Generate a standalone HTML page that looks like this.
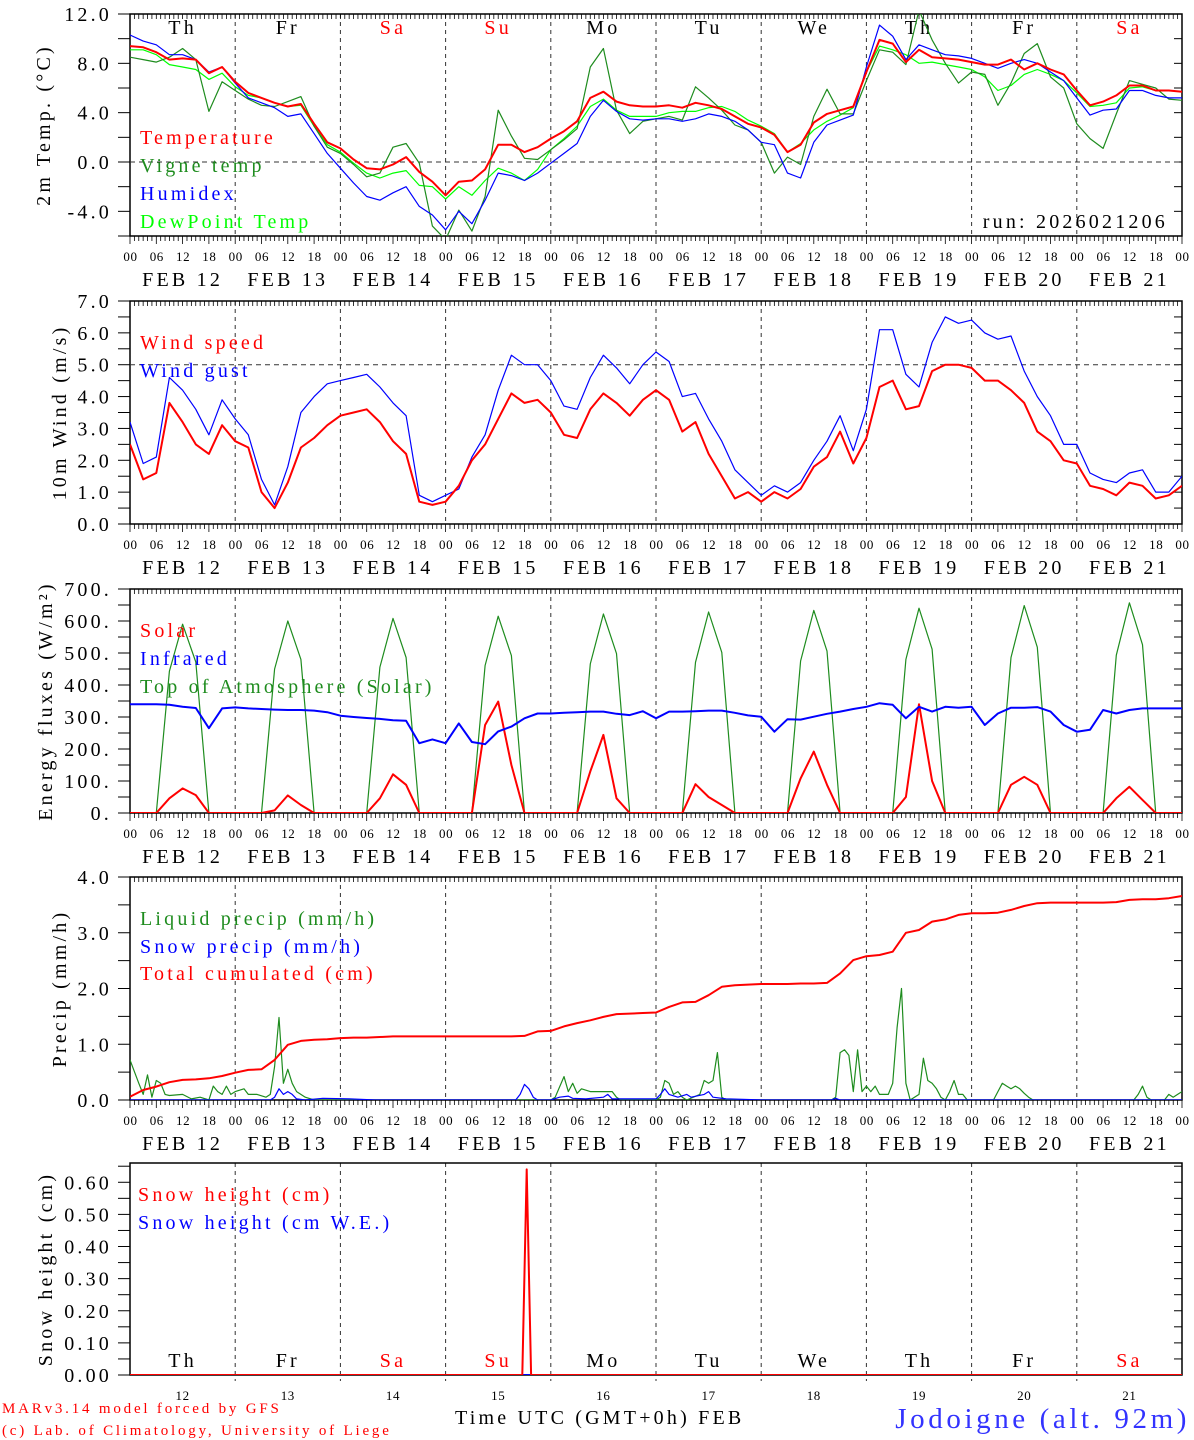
<!DOCTYPE html>
<html><head><meta charset="utf-8"><title>MAR meteogram Jodoigne</title>
<style>
html,body{margin:0;padding:0;background:#fff;}
svg{display:block;font-family:"Liberation Serif","DejaVu Serif",serif;}
.t20{font-size:20px;letter-spacing:3.2px;}
.t14{font-size:13px;letter-spacing:0.6px;}
</style></head>
<body>
<svg id="chart" width="1194" height="1440" viewBox="0 0 1194 1440" xmlns="http://www.w3.org/2000/svg"></svg>
<script>
// ---------- DATA ----------
const dayNames = ["Th","Fr","Sa","Su","Mo","Tu","We","Th","Fr","Sa"];
const dayNums = ["12","13","14","15","16","17","18","19","20","21"];
const hourTicks = ["00","06","12","18"];
const tempTicks = [12.0, 8.0, 4.0, 0.0, -4.0];
const windTicks = [7,6,5,4,3,2,1,0];
const energyTicks = [700,600,500,400,300,200,100,0];
const precipTicks = [4,3,2,1,0];
const snowTicks = [0.6,0.5,0.4,0.3,0.2,0.1,0.0];

const temperature = [9.4,9.3,8.9,8.3,8.4,8.3,7.2,7.7,6.5,5.6,5.2,4.8,4.5,4.7,3.1,1.6,1.1,0.2,-0.5,-0.6,-0.2,0.4,-0.8,-1.6,-2.7,-1.6,-1.5,-0.6,1.4,1.4,0.8,1.2,1.9,2.5,3.3,5.2,5.7,4.9,4.6,4.5,4.5,
4.6,4.4,4.8,4.6,4.3,3.7,3.1,2.8,2.2,0.8,1.4,3.2,3.9,4.2,4.5,7.3,9.9,9.6,8.1,9.1,8.5,8.4,8.3,8.1,7.9,7.9,8.3,7.5,8.0,7.5,7.1,5.8,4.6,4.9,5.4,6.2,6.2,5.8,5.8,5.7];
const humidex = [10.3,9.8,9.5,8.7,8.7,8.3,7.3,7.7,6.4,5.2,4.8,4.4,3.7,3.9,2.3,0.7,-0.5,-1.7,-2.8,-3.1,-2.5,-2.0,-3.6,-4.3,-5.5,-4.0,-5.0,-3.1,-0.9,-1.1,-1.5,-0.9,-0.1,0.7,1.5,3.7,5.0,4.1,3.5,3.4,3.5,
3.5,3.3,3.5,3.9,3.7,3.3,2.6,1.6,1.4,-0.9,-1.3,1.6,3.0,3.4,3.8,7.7,11.1,10.2,8.3,9.5,9.1,8.7,8.6,8.4,8.0,7.6,8.0,8.3,8.0,7.3,6.6,5.2,3.8,4.2,4.3,5.8,5.8,5.4,5.2,5.2];
const dewPoint = [9.1,9.1,8.7,7.9,7.7,7.5,6.7,7.2,6.1,5.4,5.2,4.8,4.5,4.6,2.9,1.4,0.8,-0.1,-0.9,-1.3,-0.9,-0.7,-1.9,-2.0,-3.0,-2.0,-2.7,-1.5,-0.5,-0.9,-1.5,-0.6,1.0,1.9,2.9,4.5,5.1,4.2,3.7,3.7,3.7,
4.0,4.1,4.1,4.4,4.5,4.1,3.4,2.9,2.3,0.8,1.5,2.6,3.3,3.8,4.4,7.3,9.4,9.1,8.7,8.0,8.1,7.9,7.7,7.5,6.9,5.8,6.2,7.1,7.5,7.1,6.6,5.6,4.5,4.6,4.8,6.0,6.1,5.8,5.8,5.7];
const vigneTemp = [8.5,8.3,8.1,8.5,9.2,8.3,4.1,6.5,5.8,5.1,4.6,4.5,4.9,5.3,2.9,1.2,0.7,-0.2,-1.2,-0.9,1.2,1.5,-0.1,-5.2,-6.3,-3.9,-5.6,-2.8,4.2,2.1,0.3,0.2,1.0,1.8,2.7,7.7,9.2,4.2,2.3,3.3,3.5,
3.7,3.4,6.1,5.2,4.2,3.0,2.6,1.6,-0.9,0.4,-0.2,3.7,5.9,3.9,3.9,6.6,9.1,8.9,7.9,12.3,9.9,8.0,6.4,7.3,7.1,4.6,6.4,8.8,9.6,6.9,6.0,3.1,1.9,1.1,3.9,6.6,6.3,6.0,5.1,5.0];

const windSpeed = [2.5,1.4,1.6,3.8,3.2,2.5,2.2,3.1,2.6,2.4,1.0,0.5,1.3,2.4,2.7,3.1,3.4,3.5,3.6,3.2,2.6,2.2,0.7,0.6,0.7,1.2,2.0,2.5,3.3,4.1,3.8,3.9,3.5,2.8,2.7,3.6,4.1,3.8,3.4,3.9,4.2,
3.9,2.9,3.2,2.2,1.5,0.8,1.0,0.7,1.0,0.8,1.1,1.8,2.1,2.9,1.9,2.7,4.3,4.5,3.6,3.7,4.8,5.0,5.0,4.9,4.5,4.5,4.2,3.8,2.9,2.6,2.0,1.9,1.2,1.1,0.9,1.3,1.2,0.8,0.9,1.2];
const windGust = [3.2,1.9,2.1,4.6,4.2,3.6,2.8,3.9,3.3,2.8,1.4,0.6,1.8,3.5,4.0,4.4,4.5,4.6,4.7,4.3,3.8,3.4,0.9,0.7,0.9,1.1,2.1,2.8,4.2,5.3,5.0,5.0,4.5,3.7,3.6,4.6,5.3,4.9,4.4,5.0,5.4,
5.1,4.0,4.1,3.3,2.6,1.7,1.3,0.9,1.2,1.0,1.3,2.0,2.6,3.4,2.3,3.6,6.1,6.1,4.7,4.3,5.7,6.5,6.3,6.4,6.0,5.8,5.9,4.8,4.0,3.4,2.5,2.5,1.6,1.4,1.3,1.6,1.7,1.0,1.0,1.5];

const solar = [0,0,0,46,77,56,0,0, 0,0,0,8,55,25,0,0, 0,0,0,46,121,88,0,0, 0,0,0,275,348,150,0,0, 0,0,0,130,244,46,0,0,
0,0,0,90,50,25,0,0, 0,0,0,108,192,88,0,0, 0,0,0,50,340,100,0,0, 0,0,0,88,113,88,0,0, 0,0,0,46,82,41,0,0, 0];
const infrared = [340,340,340,338,332,328,265,327,330,327,325,323,322,322,320,315,304,300,297,294,290,288,218,230,218,280,222,215,255,270,296,311,311,313,315,317,317,310,306,318,296,
317,317,318,320,320,313,305,301,254,293,292,301,310,317,325,332,343,338,296,332,317,332,329,332,275,311,329,329,331,317,275,254,260,322,311,322,327,327,327,327];
const topOfAtmosphere = [0,0,0,443,590,472,0,0, 0,0,0,450,600,480,0,0, 0,0,0,456,608,486,0,0, 0,0,0,461,615,492,0,0, 0,0,0,466,622,498,0,0,
0,0,0,471,628,502,0,0, 0,0,0,475,633,506,0,0, 0,0,0,480,640,512,0,0, 0,0,0,486,648,518,0,0, 0,0,0,493,657,526,0,0, 0];

const totalCumulated = [0.06,0.18,0.24,0.32,0.36,0.37,0.39,0.43,0.49,0.54,0.55,0.72,0.99,1.06,1.08,1.09,1.11,1.12,1.12,1.13,1.14,1.14,1.14,1.14,1.14,1.14,1.14,1.14,1.14,1.14,1.15,1.23,1.24,1.32,1.38,1.43,1.49,1.54,1.55,1.56,1.57,
1.67,1.75,1.76,1.88,2.03,2.06,2.07,2.08,2.08,2.08,2.09,2.09,2.10,2.27,2.51,2.58,2.60,2.66,3.00,3.05,3.20,3.24,3.32,3.35,3.35,3.36,3.41,3.48,3.53,3.54,3.54,3.54,3.54,3.54,3.55,3.59,3.60,3.60,3.62,3.66];
const liquidHours = [0,2,3,4,5,6,7,8,9,12,14,16,18,19,20,21,22,23,24,26,27,29,31,32,33,34,35,36,37,38,40,42,96,97,99,100,101,102,103,105,107,109,110,111,112,120,121,122,123,124,125,126,127,130,131,132,133,134,135,136,160,161,162,163,164,165,166,167,168,169,170,171,173,174,175,176,177,178,180,181,182,183,184,185,186,187,188,189,190,191,197,198,199,200,201,202,203,204,205,206,229,230,231,232,233,236,237,238,239,240];
const liquidPrecip = [0.72,0.3,0.1,0.45,0.05,0.35,0.3,0.1,0.08,0.1,0.02,0.05,0,0.25,0.15,0.1,0.25,0.1,0.15,0.2,0.1,0.1,0.05,0.1,0.6,1.48,0.3,0.55,0.3,0.15,0.05,0,0,0.05,0.42,0.15,0.3,0.12,0.2,0.15,0.15,0.15,0.15,0.05,0,0,0.05,0.35,0.3,0.1,0.15,0.05,0,0.1,0.35,0.3,0.35,0.85,0.05,0,0,0.05,0.85,0.9,0.8,0.15,0.9,0.15,0.25,0.15,0.25,0.1,0.1,0.3,1.3,2.0,0.3,0,0.1,0.75,0.35,0.3,0.2,0.05,0,0.15,0.35,0.1,0.1,0,0,0.15,0.3,0.25,0.2,0.25,0.2,0.12,0.05,0,0,0.1,0.25,0.05,0,0,0.1,0.05,0.1,0.15];
const snowHours = [0,32,33,34,35,36,37,38,40,44,50,56,88,89,90,91,92,93,96,98,100,101,104,108,109,110,120,121,122,123,125,127,128,131,132,133,136,145,160,161,162,240];
const snowPrecip = [0,0,0.05,0.2,0.1,0.15,0.1,0.02,0,0.03,0.02,0,0,0.1,0.28,0.2,0.05,0,0,0.05,0.07,0.03,0.02,0.05,0.1,0.02,0.02,0.1,0.2,0.1,0.05,0.1,0.05,0.1,0.15,0.05,0.02,0,0,0.03,0,0];

const snowHeightHours = [0,89.5,90.5,91.5,240];
const snowHeight = [0,0,0.64,0,0];
const snowWE = [0,0,0,0,0];

// ---------- LAYOUT ----------
const svg = document.getElementById('chart');
const NS = "http://www.w3.org/2000/svg";
const X0 = 130, X1 = 1182;
const panels = [
  {top:14,  bot:236,  min:-6, max:12},
  {top:301, bot:524,  min:0,  max:7},
  {top:589, bot:813,  min:0,  max:700},
  {top:877, bot:1100, min:0,  max:4},
  {top:1163,bot:1375, min:0,  max:0.66}
];
const H3 = [];
for (let k = 0; k <= 80; k++) H3.push(k * 3);

function xs(h){ return X0 + (X1 - X0) * h / 240; }
function ys(p, v){ return p.bot - (v - p.min) / (p.max - p.min) * (p.bot - p.top); }

function mk(tag, attrs, parent){
  const e = document.createElementNS(NS, tag);
  for (const k in attrs) e.setAttribute(k, attrs[k]);
  (parent || svg).appendChild(e);
  return e;
}
function txt(s, x, y, cls, fill, anchor, parent){
  const t = mk('text', {x:x, y:y, class:cls, fill:fill || '#000', 'text-anchor':anchor || 'start'}, parent);
  t.textContent = s;
  return t;
}

const defs = mk('defs', {});
panels.forEach((p, i) => {
  const cp = mk('clipPath', {id:'clip' + i}, defs);
  mk('rect', {x:X0, y:p.top, width:X1 - X0, height:p.bot - p.top}, cp);
});

function series(pi, hours, vals, color, width, name){
  const p = panels[pi];
  const pts = vals.map((v, i) => xs(hours[i]).toFixed(1) + ',' + ys(p, v).toFixed(1)).join(' ');
  const pl = mk('polyline', {points:pts, fill:'none', stroke:color, 'stroke-width':width, 'stroke-linejoin':'round', 'clip-path':'url(#clip' + pi + ')'});
  
  
  return pl;
}

// ---------- AXES ----------
const panelNames = ['temperature-panel','wind-panel','energy-panel','precip-panel','snow-panel'];
const tickSets = [
  {labels:tempTicks, minorStep:2, fmt:v => v.toFixed(1)},
  {labels:windTicks, minorStep:0.5, fmt:v => v.toFixed(1)},
  {labels:energyTicks, minorStep:50, fmt:v => v.toFixed(0) + '.'},
  {labels:precipTicks, minorStep:0.5, fmt:v => v.toFixed(1)},
  {labels:snowTicks, minorStep:0.05, fmt:v => v.toFixed(2)}
];
const yTitles = ['2m Temp. (\u00B0C)','10m Wind (m/s)','Energy fluxes (W/m\u00B2)','Precip (mm/h)','Snow height (cm)'];
const yTitleX = [50, 66, 52, 66, 52];

panels.forEach((p, i) => {
  const g = mk('g', {});
  
  
  for (let d = 1; d < 10; d++) {
    const x = xs(d * 24);
    const ln = mk('line', {x1:x, y1:p.top, x2:x, y2:p.bot + (i === 4 ? 6 : 0), stroke:'#333', 'stroke-width':1, 'stroke-dasharray':'4,4'}, g);
    
    
  }
  const ts = tickSets[i];
  for (let v = p.min; v <= p.max + 1e-9; v += ts.minorStep) {
    const y = ys(p, v);
    if (y < p.top - 0.5) continue;
    mk('line', {x1:X0 - 12, y1:y, x2:X0, y2:y, stroke:'#000', 'stroke-width':1}, g);
    mk('line', {x1:X1 - 8, y1:y, x2:X1, y2:y, stroke:'#000', 'stroke-width':1}, g);
  }
  ts.labels.forEach(v => {
    const t = txt(ts.fmt(v), 112, ys(p, v) + 7, 't20', '#000', 'end', g);
    
    
  });
  if (i < 4) {
    for (let h = 0; h <= 240; h++) {
      const x = xs(h);
      mk('line', {x1:x, y1:p.top, x2:x, y2:p.top + 5, stroke:'#000', 'stroke-width':0.8}, g);
      mk('line', {x1:x, y1:p.bot, x2:x, y2:p.bot + (h % 6 === 0 ? 8 : 5), stroke:'#000', 'stroke-width':0.8}, g);
    }
    for (let h = 0; h <= 240; h += 6) {
      const t = txt(hourTicks[(h / 6) % 4], xs(h) + 0.5, p.bot + 25, 't14', '#000', 'middle', g);
      
      
    }
    for (let d = 0; d < 10; d++) {
      const t = txt('FEB ' + dayNums[d], xs(d * 24 + 12), p.bot + 50, 't20', '#000', 'middle', g);
      
      
    }
  }
  const fr = mk('rect', {x:X0, y:p.top, width:X1 - X0, height:p.bot - p.top, fill:'none', stroke:'#000', 'stroke-width':1.5}, g);
  
  
  const cy = (p.top + p.bot) / 2;
  const yt = txt(yTitles[i], yTitleX[i], cy, 't20', '#000', 'middle', g);
  yt.setAttribute('transform', 'rotate(-90 ' + yTitleX[i] + ' ' + cy + ')');
  
  
});

const z1 = mk('line', {x1:X0, y1:ys(panels[0], 0), x2:X1, y2:ys(panels[0], 0), stroke:'#333', 'stroke-dasharray':'5,4'});


const w5 = mk('line', {x1:X0, y1:ys(panels[1], 5), x2:X1, y2:ys(panels[1], 5), stroke:'#333', 'stroke-dasharray':'5,4'});



for (let d = 0; d < 10; d++) {
  const col = (dayNames[d] === 'Sa' || dayNames[d] === 'Su') ? '#ff0000' : '#000';
  const a = txt(dayNames[d], xs(d * 24 + 12), 34, 't20', col, 'middle');
  
  
  const b = txt(dayNames[d], xs(d * 24 + 12), 1367, 't20', col, 'middle');
  
  
  const c = txt(dayNums[d], xs(d * 24 + 12), 1400, 't14', '#000', 'middle');
  
  
}

// ---------- SERIES ----------
series(0, H3, dewPoint, '#00ff00', 1.2, 'dewpoint-line');
series(0, H3, vigneTemp, '#1e8c1e', 1.2, 'vigne-temp-line');
series(0, H3, humidex, '#0000ff', 1.2, 'humidex-line');
series(0, H3, temperature, '#ff0000', 2, 'temperature-line');

series(1, H3, windGust, '#0000ff', 1.2, 'wind-gust-line');
series(1, H3, windSpeed, '#ff0000', 2, 'wind-speed-line');

series(2, H3, topOfAtmosphere, '#1e8c1e', 1.2, 'toa-solar-line');
series(2, H3, solar, '#ff0000', 2, 'solar-line');
series(2, H3, infrared, '#0000ff', 2, 'infrared-line');

series(3, liquidHours, liquidPrecip, '#1e8c1e', 1.2, 'liquid-precip-line');
series(3, snowHours, snowPrecip, '#0000ff', 1.2, 'snow-precip-line');
series(3, H3, totalCumulated, '#ff0000', 2, 'total-cumulated-line');

series(4, snowHeightHours, snowWE, '#0000ff', 2, 'snow-we-line');
series(4, snowHeightHours, snowHeight, '#ff0000', 2, 'snow-height-line');

// ---------- LEGENDS ----------
function legend(label, x, y, color, name){
  const t = txt(label, x, y, 't20', color, 'start');
  
  
}
legend('Temperature', 140, 144, '#ff0000', 'legend-temperature');
legend('Vigne temp', 140, 172, '#1e8c1e', 'legend-vigne-temp');
legend('Humidex', 140, 200, '#0000ff', 'legend-humidex');
legend('DewPoint Temp', 140, 228, '#00ff00', 'legend-dewpoint');
legend('Wind speed', 140, 349, '#ff0000', 'legend-wind-speed');
legend('Wind gust', 140, 377, '#0000ff', 'legend-wind-gust');
legend('Solar', 140, 637, '#ff0000', 'legend-solar');
legend('Infrared', 140, 665, '#0000ff', 'legend-infrared');
legend('Top of Atmosphere (Solar)', 140, 693, '#1e8c1e', 'legend-toa');
legend('Liquid precip (mm/h)', 140, 925, '#1e8c1e', 'legend-liquid-precip');
legend('Snow precip (mm/h)', 140, 953, '#0000ff', 'legend-snow-precip');
legend('Total cumulated (cm)', 140, 980, '#ff0000', 'legend-total-cumulated');
legend('Snow height (cm)', 138, 1201, '#ff0000', 'legend-snow-height');
legend('Snow height (cm W.E.)', 138, 1229, '#0000ff', 'legend-snow-we');

const run = txt('run: 2026021206', 1168, 228, 't20', '#000', 'end');



const f1 = mk('text', {x:2, y:1413, fill:'#ff0000', 'font-size':'15px', 'letter-spacing':'2.8px'});
f1.textContent = 'MARv3.14 model forced by GFS';


const f2 = mk('text', {x:2, y:1435, fill:'#ff0000', 'font-size':'15px', 'letter-spacing':'2.8px'});
f2.textContent = '(c) Lab. of Climatology, University of Liege';


const xt = txt('Time UTC (GMT+0h) FEB', 455, 1424, 't20', '#000', 'start');


const loc = mk('text', {x:1190, y:1428, fill:'#3333ff', 'font-size':'29px', 'letter-spacing':'3.6px', 'text-anchor':'end'});
loc.textContent = 'Jodoigne (alt. 92m)';


</script>
</body></html>
